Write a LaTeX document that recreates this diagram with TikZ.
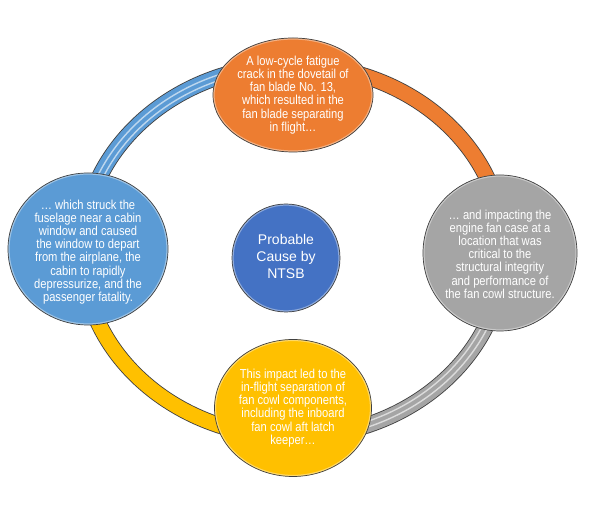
\documentclass[tikz,border=0pt]{standalone}
\usepackage{fontspec}
\setmainfont{Liberation Sans}
\newfontfamily\narrowfont[FakeStretch=0.86]{Liberation Sans}
\usetikzlibrary{shapes.geometric}
\definecolor{cOrange}{HTML}{ED7D31}
\definecolor{cBlue}{HTML}{5B9BD5}
\definecolor{cGray}{HTML}{A5A5A5}
\definecolor{cGold}{HTML}{FFC000}
\definecolor{cNavy}{HTML}{4472C4}
\definecolor{cEdge}{HTML}{404040}
\tikzset{
  bubble/.style  ={ellipse, draw=cEdge, line width=0.7pt, inner sep=0pt,
                   path picture={\draw[white, opacity=.4, line width=3.2bp]
                     (path picture bounding box.center) ellipse
                     [x radius=\pgfkeysvalueof{/pgf/minimum width}/2,
                      y radius=\pgfkeysvalueof{/pgf/minimum height}/2];}},
  btxt/.style    ={align=center, text=white, inner sep=0pt,
                   font=\narrowfont\fontsize{13bp}{13.2bp}\selectfont},
  ctxt/.style    ={align=center, text=white, inner sep=0pt,
                   font=\fontsize{14bp}{17bp}\selectfont},
  ringedge/.style={line width=16.5bp, cEdge},
  ringfill/.style={line width=14.8bp},
  shine/.style   ={line width=1.4bp, white, opacity=.6},
}
\begin{document}
\begin{tikzpicture}[x=1bp, y=1bp]
  \useasboundingbox[fill=white] (0,0) rectangle (599,511);
  \coordinate (ring) at (293,260);
  % ring, one quarter per colour
  \foreach \s/\e/\c in {90/180/cBlue, 0/90/cOrange, 270/360/cGray, 180/270/cGold}{
    \draw[ringedge] (ring) ++(\s:211bp and 186bp)
      arc[start angle=\s, end angle=\e, x radius=211bp, y radius=186bp];
    \draw[ringfill, \c] (ring) ++(\s:211bp and 186bp)
      arc[start angle=\s, end angle=\e, x radius=211bp, y radius=186bp];
  }
  % light stripes on the blue and gray quarters
  \foreach \s/\e in {90/180, 270/360}{
    \foreach \rx/\ry in {207.5/182.5, 213/188}{
      \draw[shine] (ring) ++(\s:\rx bp and \ry bp)
        arc[start angle=\s, end angle=\e, x radius=\rx bp, y radius=\ry bp];
    }
  }
  \node[bubble, fill=cOrange, minimum width=160bp, minimum height=114bp] (blade) at (293,416) {};
  \node[bubble, fill=cBlue, minimum width=160bp, minimum height=152bp] (fuse) at (88,262) {};
  \node[bubble, fill=cGray, minimum width=154bp, minimum height=156bp] (fancase) at (500,258) {};
  \node[bubble, fill=cGold, minimum width=157bp, minimum height=137bp] (cowl) at (293,103) {};
  \node[bubble, fill=cNavy, minimum width=108bp, minimum height=108bp] (cause) at (286,253) {};

  \node[btxt] (bladetxt) at (blade) {A low-cycle fatigue\\crack in the dovetail of\\fan blade No. 13,\\which resulted in the\\fan blade separating\\in flight…};
  \node[btxt] (fusetxt) at ([yshift=-3]fuse.center) {… which struck the\\fuselage near a cabin\\window and caused\\the window to depart\\from the airplane, the\\cabin to rapidly\\depressurize, and the\\passenger fatality.};
  \node[btxt] (fancasetxt) at ([yshift=-1]fancase.center) {… and impacting the\\engine fan case at a\\location that was\\critical to the\\structural integrity\\and performance of\\the fan cowl structure.};
  \node[btxt] (cowltxt) at (cowl) {This impact led to the\\in-flight separation of\\fan cowl components,\\including the inboard\\fan cowl aft latch\\keeper…};
  \node[ctxt] (causetxt) at ([yshift=2]cause.center) {Probable\\Cause by\\NTSB};
\end{tikzpicture}
\end{document}
